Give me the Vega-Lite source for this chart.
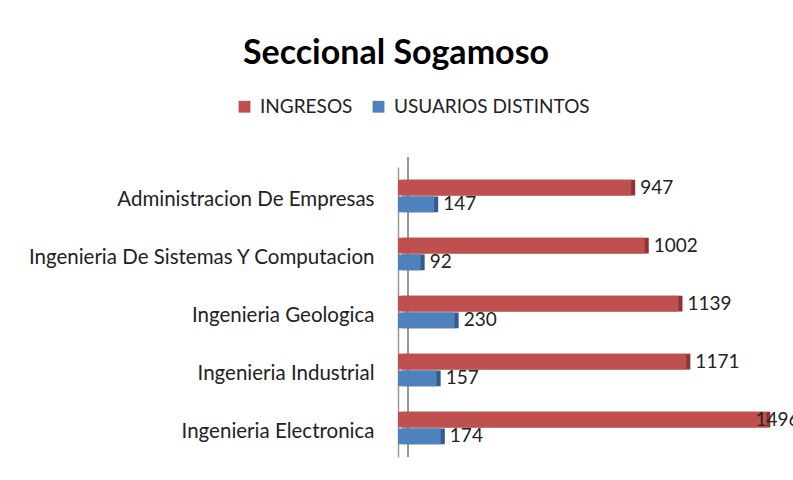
{
  "$schema": "https://vega.github.io/schema/vega-lite/v6.json",
  "width": 394,
  "height": 290,
  "autosize": {"type": "none"},
  "padding": {"left": 398, "top": 167, "right": 1, "bottom": 23},
  "background": "white",
  "title": {
    "text": "Seccional Sogamoso",
    "font": "Lato",
    "fontSize": 34,
    "fontWeight": "bold",
    "color": "#000000",
    "anchor": "middle",
    "frame": "group",
    "dx": -199,
    "offset": -1,
    "baseline": "alphabetic"
  },
  "data": {
    "values": [
      {"programa": "Administracion De Empresas", "serie": "INGRESOS", "valor": 947},
      {"programa": "Administracion De Empresas", "serie": "USUARIOS DISTINTOS", "valor": 147},
      {"programa": "Ingenieria De Sistemas Y Computacion", "serie": "INGRESOS", "valor": 1002},
      {"programa": "Ingenieria De Sistemas Y Computacion", "serie": "USUARIOS DISTINTOS", "valor": 92},
      {"programa": "Ingenieria Geologica", "serie": "INGRESOS", "valor": 1139},
      {"programa": "Ingenieria Geologica", "serie": "USUARIOS DISTINTOS", "valor": 230},
      {"programa": "Ingenieria Industrial", "serie": "INGRESOS", "valor": 1171},
      {"programa": "Ingenieria Industrial", "serie": "USUARIOS DISTINTOS", "valor": 157},
      {"programa": "Ingenieria Electronica", "serie": "INGRESOS", "valor": 1496},
      {"programa": "Ingenieria Electronica", "serie": "USUARIOS DISTINTOS", "valor": 174}
    ]
  },
  "encoding": {
    "y": {
      "field": "programa",
      "type": "nominal",
      "sort": null,
      "scale": {"paddingInner": 0.44, "paddingOuter": 0.22},
      "axis": {
        "title": null,
        "ticks": false,
        "domain": true,
        "domainColor": "#999999",
        "domainWidth": 1.5,
        "labelFont": "Lato",
        "labelFontSize": 20.5,
        "labelColor": "#222222",
        "labelPadding": 24,
        "labelLimit": 400,
        "labelOffset": 4
      }
    },
    "yOffset": {"field": "serie", "type": "nominal", "scale": {"paddingInner": 0.05}},
    "x": {
      "field": "valor",
      "type": "quantitative",
      "scale": {"domain": [0, 1600]},
      "axis": null
    }
  },
  "layer": [
    {
      "mark": {"type": "rule", "color": "#999999", "strokeWidth": 1.5, "xOffset": 10, "y2Offset": -10, "yOffset": -10},
      "encoding": {"x": {"datum": 0}, "y": null, "yOffset": null}
    },
    {
      "mark": {"type": "bar", "xOffset": 4, "yOffset": -3},
      "encoding": {
        "color": {
          "field": "serie",
          "type": "nominal",
          "scale": {"domain": ["INGRESOS", "USUARIOS DISTINTOS"], "range": ["#8B3634", "#335C8C"]},
          "legend": null
        }
      }
    },
    {
      "mark": {"type": "bar"},
      "encoding": {
        "color": {
          "field": "serie",
          "type": "nominal",
          "scale": {"domain": ["INGRESOS", "USUARIOS DISTINTOS"], "range": ["#C0504D", "#4F81BD"]},
          "legend": {
            "title": null,
            "orient": "none",
            "legendX": -163,
            "legendY": -70,
            "direction": "horizontal",
            "symbolType": "square",
            "symbolSize": 140,
            "symbolStrokeWidth": 0,
            "labelFont": "Lato",
            "labelFontSize": 19,
            "labelColor": "#222222",
            "labelLimit": 300,
            "columnPadding": 16,
            "labelOffset": 6
          }
        }
      }
    },
    {
      "transform": [{"filter": "datum.valor < 1400"}],
      "mark": {"type": "text", "align": "left", "baseline": "middle", "dx": 9, "font": "Lato", "fontSize": 19, "color": "#222222"},
      "encoding": {"text": {"field": "valor", "type": "quantitative"}}
    },
    {
      "transform": [{"filter": "datum.valor >= 1400"}],
      "mark": {"type": "text", "align": "left", "baseline": "middle", "dx": -11, "font": "Lato", "fontSize": 19, "color": "#222222"},
      "encoding": {"text": {"field": "valor", "type": "quantitative"}}
    }
  ],
  "resolve": {"scale": {"color": "independent"}},
  "config": {"view": {"stroke": null}}
}
